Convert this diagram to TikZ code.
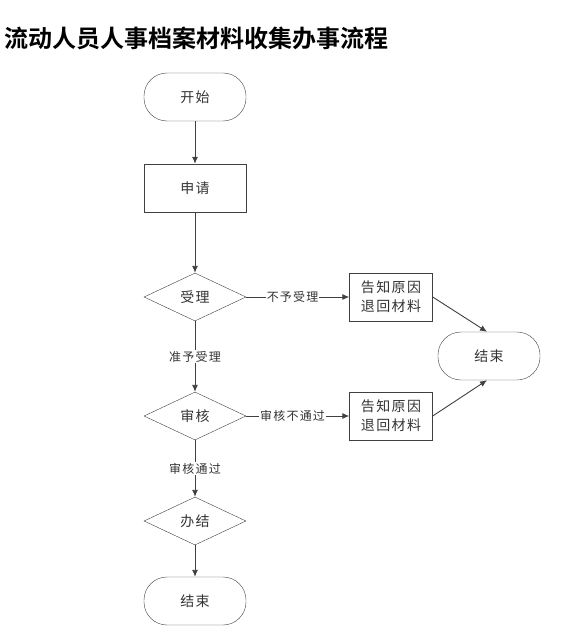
\documentclass[tikz,border=0pt]{standalone}
\usepackage{fontspec}
\setmainfont{Noto Sans CJK SC}[LetterSpace=10]
\newfontfamily\titlefont{Noto Sans CJK SC}[BoldFont={* Bold}]
\usepackage{xcolor}
\usetikzlibrary{shapes.geometric, arrows.meta}
\definecolor{linegray}{HTML}{404040}
\definecolor{textgray}{HTML}{333333}

\begin{document}
\begin{tikzpicture}[x=1pt, y=-1pt, >={Latex[length=7pt,width=6pt]},
    terminal/.style={draw=linegray, rectangle, rounded corners=23pt, minimum width=102pt, minimum height=48pt, inner sep=0pt, font=\fontsize{14}{16}\selectfont, text=textgray},
    stepbox/.style={draw=linegray, rectangle, minimum width=102pt, minimum height=48pt, inner sep=0pt, font=\fontsize{14}{16}\selectfont, text=textgray},
    notebox/.style={draw=linegray, rectangle, minimum width=83pt, minimum height=48pt, inner sep=0pt, align=center, font=\fontsize{14}{19}\selectfont, text=textgray},
    decide/.style={draw=linegray, diamond, minimum width=102pt, minimum height=48pt, inner sep=0pt, font=\fontsize{14}{16}\selectfont, text=textgray},
    lbl/.style={fill=white, inner sep=1pt, font=\fontsize{12}{13}\selectfont, text=textgray},
    flow/.style={->, draw=linegray, line width=0.9pt}]
    \useasboundingbox (0,0) rectangle (571,639);

    % 标题
    \node[anchor=west, inner sep=0pt, font=\titlefont\bfseries\fontsize{24}{27}\selectfont] (title) at (4,38) {流动人员人事档案材料收集办事流程};

    % 主流程
    \node[terminal] (start) at (195,97) {开始};
    \node[stepbox] (apply) at (195,188) {申请};
    \node[decide] (accept) at (195,297) {受理};
    \node[decide] (review) at (195,416) {审核};
    \node[decide] (finish) at (195,521) {办结};
    \node[terminal] (stop) at (195,601) {结束};

    % 右侧分支
    \node[notebox] (back1) at (391,297) {告知原因\\退回材料};
    \node[notebox] (back2) at (391,416) {告知原因\\退回材料};
    \node[terminal] (stop2) at (489,356) {结束};

    \draw[flow] (start) -- (apply);
    \draw[flow] (apply) -- (accept);
    \draw[flow] (accept) -- node[lbl] {准予受理} (review);
    \draw[flow] (review) -- node[lbl] {审核通过} (finish);
    \draw[flow] (finish) -- (stop);

    \draw[flow] (accept.east) -- node[lbl, pos=0.45] {不予受理} (back1.west);
    \draw[flow] (review.east) -- node[lbl, pos=0.45] {审核不通过} (back2.west);
    \draw[flow] (back1.east) -- ([xshift=-2pt]stop2.north);
    \draw[flow] (back2.east) -- ([xshift=-2pt]stop2.south);

\end{tikzpicture}
\end{document}
